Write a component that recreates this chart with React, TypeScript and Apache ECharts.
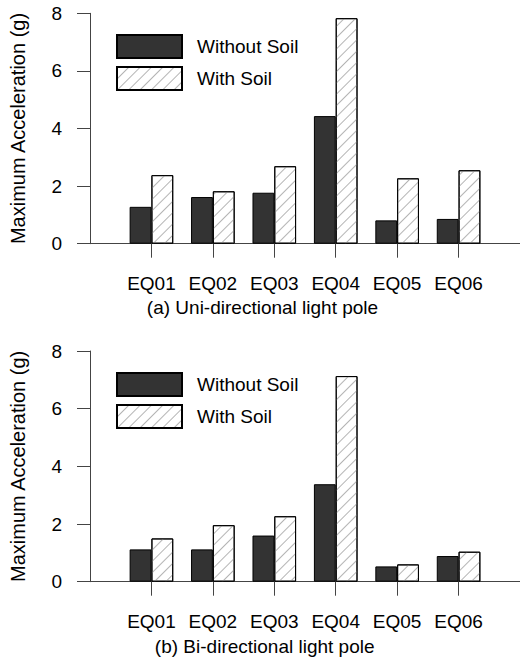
import React, { useEffect, useRef } from "react";
import * as echarts from "echarts";

const categories = ["EQ01", "EQ02", "EQ03", "EQ04", "EQ05", "EQ06"];
const uniWithoutSoil = [1.28, 1.62, 1.77, 4.43, 0.81, 0.86];
const uniWithSoil = [2.38, 1.82, 2.69, 7.83, 2.27, 2.55];
const biWithoutSoil = [1.12, 1.12, 1.6, 3.38, 0.53, 0.89];
const biWithSoil = [1.5, 1.96, 2.27, 7.13, 0.6, 1.04];
const yTicks = [0, 2, 4, 6, 8];
const captions = ["(a) Uni-directional light pole", "(b) Bi-directional light pole"];
const seriesNames = ["Without Soil", "With Soil"];

const FONT = "'Liberation Sans', Arial, sans-serif";
const positions = categories.map((_, i) => i + 1);

export default function App() {
  const ref = useRef<HTMLDivElement>(null);
  useEffect(() => {
    if (!ref.current) return;
    const chart = echarts.init(ref.current, undefined, { renderer: "svg" });
    const hatch = {
      symbol: "rect",
      symbolSize: 1,
      dashArrayX: [1, 0],
      dashArrayY: [1, 7],
      rotation: -Math.PI / 4,
      color: "#b4b4b4",
    };
    const gridTops = [13.3, 351];
    const gridH = [230.4, 230.7];
    const legendTops = [34, 372];
    const panels = [
      [uniWithoutSoil, uniWithSoil],
      [biWithoutSoil, biWithSoil],
    ];
    const xAxis: any[] = [];
    const yAxis: any[] = [];
    const grid: any[] = [];
    const legend: any[] = [];
    const series: any[] = [];
    [0, 1].forEach((p) => {
      grid.push({ left: 90, top: gridTops[p], width: 432.6, height: gridH[p] });
      xAxis.push({
        type: "value",
        gridIndex: p,
        min: 0,
        max: 7,
        interval: 1,
        axisLine: { show: true, lineStyle: { color: "#444", width: 1 } },
        axisTick: { show: true, length: 14, customValues: positions, lineStyle: { color: "#444" } },
        axisLabel: {
          customValues: positions,
          formatter: (v: number) => categories[Math.round(v) - 1] ?? "",
          fontSize: 19,
          fontFamily: FONT,
          color: "#000",
          margin: 30,
        },
        splitLine: { show: false },
      });
      yAxis.push({
        type: "value",
        gridIndex: p,
        min: yTicks[0],
        max: yTicks[yTicks.length - 1],
        interval: 2,
        name: "Maximum Acceleration (g)",
        nameLocation: "middle",
        nameGap: 62,
        nameTextStyle: { fontSize: 20, fontFamily: FONT, color: "#000" },
        axisLine: { show: true, lineStyle: { color: "#444", width: 1 } },
        axisTick: { show: true, length: 13, lineStyle: { color: "#444" } },
        axisLabel: { fontSize: 19, fontFamily: FONT, color: "#000", margin: 28 },
        splitLine: { show: false },
      });
      legend.push({
        orient: "vertical",
        left: 116,
        top: legendTops[p],
        padding: 0,
        itemWidth: 65,
        itemHeight: 23,
        itemGap: 7,
        icon: "rect",
        data: seriesNames,
        textStyle: { fontSize: 19, fontFamily: FONT, color: "#000", padding: [0, 0, 0, 10] },
      });
      const [without, withS] = panels[p];
      series.push({
        type: "bar",
        name: seriesNames[0],
        xAxisIndex: p,
        yAxisIndex: p,
        barWidth: 21.8,
        barGap: "0%",
        data: without.map((v, i) => [positions[i], v]),
        itemStyle: { color: "#333333", borderColor: "#000", borderWidth: 1 },
      });
      series.push({
        type: "bar",
        name: seriesNames[1],
        xAxisIndex: p,
        yAxisIndex: p,
        barWidth: 21.8,
        barGap: "0%",
        data: withS.map((v, i) => [positions[i], v]),
        itemStyle: { color: "#ffffff", borderColor: "#000", borderWidth: 1, decal: hatch },
      });
    });
    chart.setOption({
      animation: false,
      backgroundColor: "#fff",
      grid,
      xAxis,
      yAxis,
      legend,
      series,
      graphic: [
        {
          type: "text",
          x: 262.5,
          y: 307,
          style: { text: captions[0], fontSize: 19, fontFamily: FONT, fill: "#000", textAlign: "center", textVerticalAlign: "middle" },
        },
        {
          type: "text",
          x: 264.7,
          y: 646,
          style: { text: captions[1], fontSize: 19, fontFamily: FONT, fill: "#000", textAlign: "center", textVerticalAlign: "middle" },
        },
      ],
    });
    return () => chart.dispose();
  }, []);
  return <div ref={ref} style={{ position: "absolute", left: 0, top: 0, width: 520, height: 666 }} />;
}
